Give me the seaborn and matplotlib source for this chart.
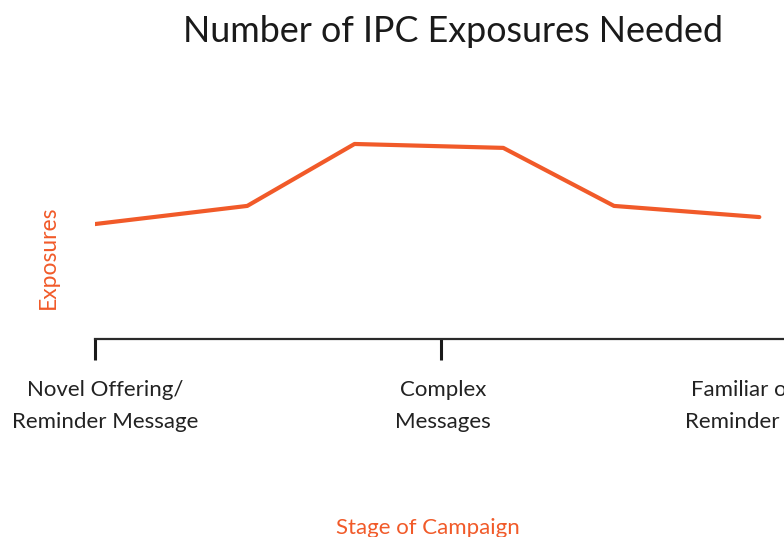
import matplotlib
matplotlib.use("Agg")
import matplotlib.pyplot as plt
import matplotlib.transforms as mtransforms
import pandas as pd
import seaborn as sns

# === DATA ===
stage_pos = [0.0, 0.44, 0.75, 1.18, 1.5, 1.92]
exposures = [4.12, 4.77, 6.99, 6.85, 4.77, 4.37]
stage_ticks = [0, 1, 2]
stage_labels = ["Novel Offering/\nReminder Message", "Complex\nMessages",
                "Familiar or Simple\nReminder Message"]

ORANGE = "#F15A29"
DARK = "#2A2A2A"

sns.set_style("white")
plt.rcParams['font.family'] = ['Lato', 'DejaVu Sans']

df = pd.DataFrame({"stage": stage_pos, "exposures": exposures})

fig = plt.figure(figsize=(7.84, 5.37), dpi=100)
# axes runs a little past the right edge, like the cropped slide
ax = fig.add_axes([95 / 784, 198 / 537, 692 / 784, 279 / 537])

sns.lineplot(data=df, x="stage", y="exposures", color=ORANGE, linewidth=3, ax=ax)

ax.set_xlim(0, 2)
ax.set_ylim(0, 10)
sns.despine(ax=ax, left=True, top=True, right=True)
ax.spines['bottom'].set_color(DARK)
ax.spines['bottom'].set_linewidth(1.6)
ax.set_yticks([])
ax.set_xticks(stage_ticks)
ax.set_xticklabels([])
ax.tick_params(axis='x', direction='out', length=15, width=2.2, color="#1a1a1a", bottom=True)
ax.set_xlabel("")
ax.set_ylabel("")

# stage labels under the ticks
label_x = [0.03, 1.005, 1.975]
trans = mtransforms.blended_transform_factory(ax.transData, fig.transFigure)
for x, lab in zip(label_x, stage_labels):
    ax.text(x, 1 - 406 / 537, lab, transform=trans, ha='center', va='center',
            fontsize=16, color="#222222", linespacing=1.7, clip_on=False)

fig.text(453 / 784, 1 - 32 / 537, "Number of IPC Exposures Needed",
         ha='center', va='center', fontsize=25.8, color="#1a1a1a")
fig.text(48 / 784, 1 - 257 / 537, "Exposures", rotation=90,
         ha='center', va='center', fontsize=16.5, color=ORANGE)
fig.text(428 / 784, 1 - 528 / 537, "Stage of Campaign",
         ha='center', va='center', fontsize=16, color=ORANGE)

plt.savefig("out.png", dpi=100)
